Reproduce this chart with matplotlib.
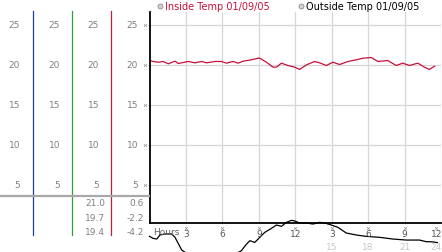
import numpy as np
import matplotlib
matplotlib.use("Agg")
import matplotlib.pyplot as plt
import matplotlib.transforms as mtransforms

# data
inside_hours = [0, 0.3, 0.73, 1.14, 1.55, 2.1, 2.37, 3.19, 3.74, 4.29, 4.7, 5.38, 5.93,
                6.34, 6.89, 7.3, 7.7, 8.4, 8.94, 9.08, 9.63, 10.17, 10.45, 10.86, 11.4,
                11.96, 12.37, 12.92, 13.6, 14.01, 14.56, 15.1, 15.65, 16.34, 17.03, 17.57,
                18.26, 18.8, 19.62, 20.31, 20.85, 21.4, 22.09, 22.64, 23.05, 23.46]
inside_temp = [20.54, 20.42, 20.33, 20.42, 20.13, 20.46, 20.17, 20.42, 20.25, 20.42, 20.25,
               20.42, 20.42, 20.21, 20.42, 20.21, 20.46, 20.63, 20.83, 20.83, 20.33, 19.71,
               19.71, 20.21, 19.92, 19.71, 19.42, 20.0, 20.42, 20.25, 19.92, 20.33, 20.04,
               20.42, 20.63, 20.83, 20.92, 20.42, 20.54, 19.92, 20.21, 19.92, 20.21, 19.71,
               19.42, 19.83]

outside_hours = [0, 0.3, 0.6, 0.86, 1.27, 1.82, 2.1, 2.65, 3.3, 4.5, 6.0, 7.0, 7.57, 7.99,
                 8.26, 8.67, 9.08, 9.49, 10.04, 10.45, 10.86, 11.27, 11.68, 11.96, 12.37,
                 12.92, 13.46, 14.0, 14.42, 14.97, 15.51, 16.2, 17.03, 17.85, 18.94, 20.03,
                 21.13, 22.23, 22.77, 23.3, 23.7]
outside_temp = [-1.42, -1.67, -1.75, -1.25, -1.12, -1.12, -1.54, -3.12, -3.8, -4.2, -4.1,
                -3.7, -3.2, -2.38, -1.96, -2.17, -1.54, -0.92, -0.42, 0.0, -0.17, 0.33,
                0.58, 0.5, 0.25, 0.25, 0.12, 0.33, 0.25, 0.0, -0.29, -1.0, -1.25, -1.42,
                -1.54, -1.75, -1.88, -1.88, -2.08, -2.1, -2.2]

y_ticks = [5, 10, 15, 20, 25]
x_ticks = [3, 6, 9, 12, 15, 18, 21, 24]
x_labels = ["3", "6", "9", "12", "3", "6", "9", "12"]
x_labels_24h = ["15", "18", "21", "24"]
inside_stats = ["21.0", "19.7", "19.4"]
outside_stats = ["0.6", "-2.2", "-4.2"]

W, H = 442, 253
fig = plt.figure(figsize=(W / 100, H / 100), dpi=100)
fig.patch.set_facecolor("white")

RED = "#c8103a"
GRAY_TXT = "#808080"
FS = 6.5

ax = fig.add_axes([149.5 / W, (H - 224) / H, (441 - 149.5) / W, (224 - 13) / H])
ax.set_xlim(0, 24)
ax.set_ylim(0.25, 26.6)
ax.set_facecolor("white")
for s in ["top", "right"]:
    ax.spines[s].set_visible(False)
ax.spines["left"].set_linewidth(1.3)
ax.spines["bottom"].set_linewidth(1.3)
ax.set_xticks(x_ticks)
ax.set_yticks(y_ticks)
ax.tick_params(length=0, labelbottom=False, labelleft=False)
ax.grid(True, color="#d6d6d6", linewidth=0.9)
ax.set_axisbelow(True)

ax.plot(inside_hours, inside_temp, color=RED, linewidth=0.9)
ax.plot(outside_hours, outside_temp, color="black", linewidth=0.9, clip_on=False)

# x tick labels under the axis
xt = mtransforms.blended_transform_factory(ax.transData, fig.transFigure)
def fy(py):
    return (H - py) / H

ax.text(0.3, fy(233), "Hours", transform=xt, fontsize=FS, color="#606060",
        ha="left", va="center")
for t, lab in zip(x_ticks, x_labels):
    xx = t if t < 24 else 23.6
    ax.text(xx, fy(234.5), lab, transform=xt, fontsize=FS, color="#555555",
            ha="center", va="center")
    ax.plot([xx], [fy(228.5)], transform=xt, marker="x", ms=2, mew=0.5,
            color="#909090", clip_on=False)
for t, lab in zip(x_ticks[4:], x_labels_24h):
    xx = t if t < 24 else 23.6
    ax.text(xx, fy(247.5), lab, transform=xt, fontsize=FS, color="#c8c8c8",
            ha="center", va="center")

# left panel: scale columns
yt = mtransforms.blended_transform_factory(fig.transFigure, ax.transData)
col_right = [20, 60, 99, 138]
for v in y_ticks:
    for cx in col_right:
        ax.text(cx / W, v, str(v), transform=yt, fontsize=FS, color=GRAY_TXT,
                ha="right", va="center")
    ax.plot([145 / W], [v], transform=yt, marker="x", ms=2, mew=0.5,
            color="#909090", clip_on=False)

for px, c in zip([33, 72, 111], ["#2040a0", "#30a030", "#c02040"]):
    fig.add_artist(plt.Line2D([px / W, px / W], [fy(12), fy(236)], color=c,
                              linewidth=0.9, transform=fig.transFigure))
fig.add_artist(plt.Line2D([0, 149 / W], [fy(197), fy(197)], color="#a8a8a8",
                          linewidth=1.6, transform=fig.transFigure))

for i, (a, b) in enumerate(zip(inside_stats, outside_stats)):
    py = 204 + i * 14.5
    fig.text(105 / W, fy(py), a, fontsize=FS, color=GRAY_TXT, ha="right", va="center")
    fig.text(144 / W, fy(py), b, fontsize=FS, color=GRAY_TXT, ha="right", va="center")

# legend
for px, lab, c in [(160, "Inside Temp 01/09/05", RED), (301, "Outside Temp 01/09/05", "black")]:
    fig.add_artist(plt.Line2D([px / W], [fy(7)], marker="o", ms=3.6, mfc="#d0d0d0",
                              mec="#909090", mew=0.6, transform=fig.transFigure))
    fig.text((px + 5) / W, fy(7), lab, fontsize=7, color=c, ha="left", va="center")

fig.savefig("out.png", dpi=100)
